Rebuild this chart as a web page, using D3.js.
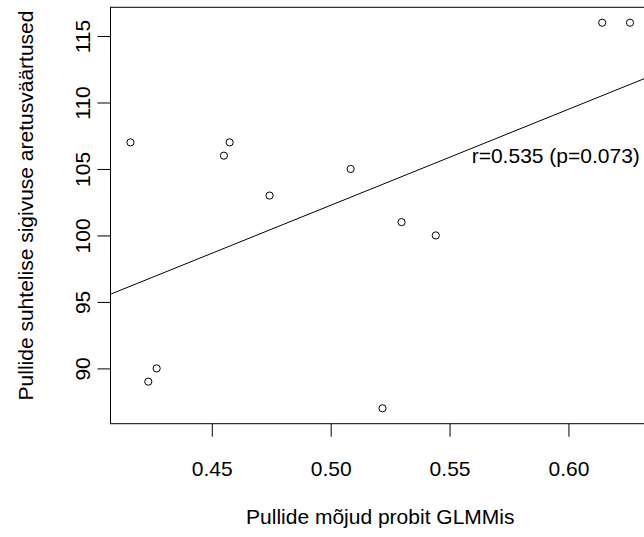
<!DOCTYPE html>
<html>
<head>
<meta charset="utf-8">
<script src="https://cdn.jsdelivr.net/npm/d3@7"></script>
<style>
  body { margin: 0; background: #fff; }
  svg text { font-family: "Liberation Sans", Arial, Helvetica, sans-serif; fill: #000; }
</style>
</head>
<body>
<svg id="chart" width="644" height="537"></svg>
<script>
// bull effects (probit GLMM) vs relative fertility breeding values
var effectX = [0.4158, 0.4575, 0.4551, 0.4743, 0.4268, 0.4233, 0.5084, 0.5298, 0.5442, 0.5218, 0.6142, 0.6259];
var breedingY = [107, 107, 106, 103, 90, 89, 105, 101, 100, 87, 116, 116];
var xTicks = [0.45, 0.50, 0.55, 0.60];
var yTicks = [90, 95, 100, 105, 110, 115];
var xTitle = "Pullide mõjud probit GLMMis";
var yTitle = "Pullide suhtelise sigivuse aretusväärtused";
var corrLabel = "r=0.535 (p=0.073)";

var svg = d3.select('#chart');
var plotLeft = 110.5, plotRight = 650, plotTop = 7.3, plotBottom = 423.7;
var fontSize = 21, tickLen = 13;

// R style axis range: extend data range by 4% on each side
function rRange(vals) {
    var ext = d3.extent(vals);
    var pad = (ext[1] - ext[0]) * 0.04;
    return [ext[0] - pad, ext[1] + pad];
}

var x = d3.scaleLinear().domain(rRange(effectX)).range([plotLeft, plotRight]);
var y = d3.scaleLinear().domain(rRange(breedingY)).range([plotBottom, plotTop]);

svg.append('clipPath').attr('id', 'plotclip')
    .append('rect')
    .attr('x', plotLeft).attr('y', plotTop)
    .attr('width', plotRight - plotLeft).attr('height', plotBottom - plotTop);

// box
svg.append('rect')
    .attr('x', plotLeft).attr('y', plotTop)
    .attr('width', plotRight - plotLeft).attr('height', plotBottom - plotTop)
    .style('fill', 'none').style('stroke', '#000').style('stroke-width', 1);

// x axis
var xAxis = svg.append('g').attr('transform', 'translate(0,' + plotBottom + ')')
    .call(d3.axisBottom(x).tickValues(xTicks).tickFormat(d3.format('.2f'))
        .tickSizeInner(tickLen).tickSizeOuter(0).tickPadding(0));
xAxis.select('.domain').remove();
xAxis.selectAll('line').style('stroke', '#000');
xAxis.selectAll('text')
    .attr('dy', null)
    .attr('y', 475.7 - plotBottom)
    .style('font-size', fontSize + 'px');

// y axis
var yAxis = svg.append('g').attr('transform', 'translate(' + plotLeft + ',0)')
    .call(d3.axisLeft(y).tickValues(yTicks)
        .tickSizeInner(tickLen).tickSizeOuter(0).tickPadding(0));
yAxis.select('.domain').remove();
yAxis.selectAll('line').style('stroke', '#000');
yAxis.selectAll('.tick text')
    .attr('x', null).attr('dy', null)
    .attr('text-anchor', 'middle')
    .attr('transform', 'translate(' + (90 - plotLeft) + ',0) rotate(-90)')
    .style('font-size', fontSize + 'px');

// points
svg.append('g').selectAll('circle')
    .data(d3.zip(effectX, breedingY))
    .enter()
    .append('circle')
    .attr('cx', d => x(d[0]))
    .attr('cy', d => y(d[1]))
    .attr('r', 3.6)
    .style('fill', 'none')
    .style('stroke', '#000')
    .style('stroke-width', 1);

// least squares line
var mx = d3.mean(effectX), my = d3.mean(breedingY);
var sxy = d3.sum(effectX, (v, i) => (v - mx) * (breedingY[i] - my));
var sxx = d3.sum(effectX, v => (v - mx) * (v - mx));
var slope = sxy / sxx, intercept = my - slope * mx;
var xd = x.domain();

svg.append('line')
    .attr('clip-path', 'url(#plotclip)')
    .attr('x1', x(xd[0])).attr('y1', y(intercept + slope * xd[0]))
    .attr('x2', x(xd[1])).attr('y2', y(intercept + slope * xd[1]))
    .style('stroke', '#000').style('stroke-width', 1);

svg.append('text')
    .attr('x', 471.7).attr('y', 163.3)
    .style('font-size', fontSize + 'px')
    .text(corrLabel);

// axis titles
svg.append('text')
    .attr('x', (plotLeft + plotRight) / 2).attr('y', 524)
    .attr('text-anchor', 'middle')
    .style('font-size', fontSize + 'px')
    .text(xTitle);

svg.append('text')
    .attr('transform', 'translate(33.3,205.5) rotate(-90)')
    .attr('text-anchor', 'middle')
    .style('font-size', fontSize + 'px')
    .text(yTitle);
</script>
</body>
</html>
